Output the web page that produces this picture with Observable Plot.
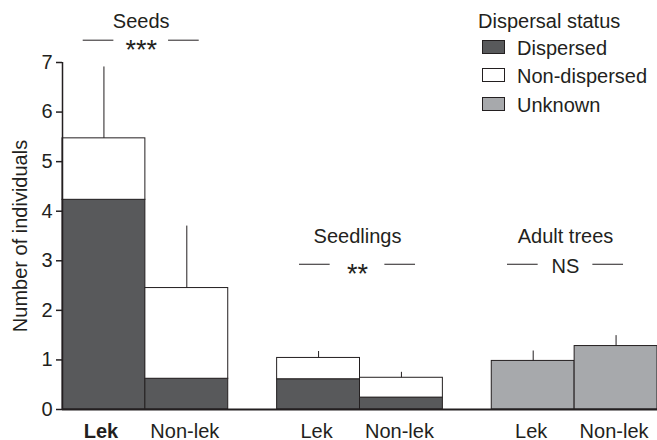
<!DOCTYPE html>
<html>
<head>
<meta charset="utf-8">
<script src="https://cdn.jsdelivr.net/npm/d3@7"></script>
<script src="https://cdn.jsdelivr.net/npm/@observablehq/plot@0.6"></script>
<style>
  body { margin: 0; background: #fff; }
  #wrap { position: relative; width: 657px; height: 440px; font-family: "Liberation Sans", Arial, sans-serif; }
  #legend { position: absolute; left: 0; top: 0; pointer-events: none; }
</style>
</head>
<body>
<div id="wrap"></div>
<script>
// ---- Data ----
const groups = ["Seeds", "Seedlings", "Adult trees"];
const sites = ["Lek", "Non-lek"];
const significance = ["***", "**", "NS"];
const barGroup = ["Seeds", "Seeds", "Seedlings", "Seedlings", "Adult trees", "Adult trees"];
const barSite = ["Lek", "Non-lek", "Lek", "Non-lek", "Lek", "Non-lek"];
const dispersed = [4.23, 0.62, 0.61, 0.24, 0, 0];
const nonDispersed = [1.24, 1.83, 0.43, 0.40, 0, 0];
const unknown = [0, 0, 0, 0, 0.98, 1.28];
const errorUpper = [6.91, 3.70, 1.17, 0.75, 1.18, 1.49];
const statuses = ["Dispersed", "Non-dispersed", "Unknown"];
const yTicks = [0, 1, 2, 3, 4, 5, 6, 7];

// ---- Layout / style ----
const GAP = 0.59;               // gap between groups, in bar widths
const INK = "#231f20";
const colors = ["#58595b", "#ffffff", "#a7a9ac"];
const FS = 20;

const gi = g => groups.indexOf(g);
const si = s => sites.indexOf(s);
const xLeft = (g, s) => gi(g) * (2 + GAP) + si(s);

// build stacked segments
const segments = [];
barGroup.forEach((g, i) => {
  const vals = [dispersed[i], nonDispersed[i], unknown[i]];
  let base = 0;
  vals.forEach((v, k) => {
    if (v > 0) {
      segments.push({group: g, site: barSite[i], status: statuses[k], y1: base, y2: base + v,
        x1: xLeft(g, barSite[i]), x2: xLeft(g, barSite[i]) + 1});
      base += v;
    }
  });
});
const bars = barGroup.map((g, i) => ({
  group: g, site: barSite[i],
  total: dispersed[i] + nonDispersed[i] + unknown[i],
  upper: errorUpper[i],
  xc: xLeft(g, barSite[i]) + 0.5,
  bold: i === 0
}));
const xMax = groups.length * 2 + (groups.length - 1) * GAP;

// annotation layout (y in data units)
const titleY = [7.70, 3.35, 3.35];
const sigY = [7.45, 2.93, 2.93];
const annShift = [-0.05, -0.03, -0.11];
const ann = groups.map((g, i) => ({
  group: g, sig: significance[i],
  xc: gi(g) * (2 + GAP) + 1 + annShift[i],
  ty: titleY[i], sy: sigY[i],
  star: significance[i].includes("*")
}));
const sigLines = ann.flatMap(a => [
  {x1: a.xc - 0.70, x2: a.xc - 0.33, y: a.sy},
  {x1: a.xc + 0.33, x2: a.xc + 0.70, y: a.sy}
]);

const chart = Plot.plot({
  width: 657,
  height: 440,
  marginLeft: 62,
  marginRight: 0,
  marginTop: 62,
  marginBottom: 31,
  style: {fontFamily: '"Liberation Sans", Arial, sans-serif', fontSize: FS + "px", color: INK, background: "transparent"},
  x: {domain: [0, xMax], axis: null},
  y: {domain: [0, 7]},
  color: {domain: statuses, range: colors},
  marks: [
    Plot.rect(segments, {x1: "x1", x2: "x2", y1: "y1", y2: "y2", fill: "status", stroke: INK, strokeWidth: 1}),
    Plot.ruleX(bars, {x: "xc", y1: "total", y2: "upper", stroke: INK, strokeWidth: 1}),
    Plot.ruleY([0], {x1: 0, x2: xMax, stroke: INK, strokeWidth: 2}),
    Plot.ruleX([0], {y1: 0, y2: 7, stroke: INK, strokeWidth: 1.5}),
    Plot.axisY({ticks: yTicks, tickSize: 6, tickPadding: 4, tickFormat: d3.format("d"),
      fontSize: FS, stroke: INK, strokeWidth: 1.5,
      label: "Number of individuals", labelAnchor: "center", labelArrow: "none", labelOffset: 50}),
    Plot.text(bars.filter(d => !d.bold), {x: "xc", y: 0, text: "site", lineAnchor: "bottom", dy: 28, dx: -2,
      fontSize: FS, fill: INK}),
    Plot.text(bars.filter(d => d.bold), {x: "xc", y: 0, text: "site", lineAnchor: "bottom", dy: 28, dx: -3,
      fontSize: FS, fill: INK, fontWeight: "bold"}),
    Plot.text(ann, {x: "xc", y: "ty", text: "group", lineAnchor: "bottom", fontSize: FS, fill: INK}),
    Plot.text(ann.filter(d => d.star), {x: "xc", y: "sy", text: "sig", lineAnchor: "bottom", fontSize: 27, fill: INK, dy: 19}),
    Plot.text(ann.filter(d => !d.star), {x: "xc", y: "sy", text: "sig", lineAnchor: "bottom", fontSize: FS, fill: INK, dy: 9}),
    Plot.ruleY(sigLines, {x1: "x1", x2: "x2", y: "y", stroke: INK, strokeWidth: 1})
  ]
});

const wrap = document.getElementById("wrap");
wrap.appendChild(chart);

// legend overlay
const leg = d3.select(wrap).append("svg").attr("id", "legend")
  .attr("width", 657).attr("height", 130)
  .style("font-family", '"Liberation Sans", Arial, sans-serif').style("font-size", FS + "px");
leg.append("text").attr("x", 478).attr("y", 27.5).attr("fill", INK).text("Dispersal status");
const baselines = [55, 83, 112];
statuses.forEach((s, i) => {
  leg.append("rect").attr("x", 482.5).attr("y", baselines[i] - 14.5).attr("width", 22).attr("height", 13)
    .attr("fill", colors[i]).attr("stroke", INK).attr("stroke-width", 1);
  leg.append("text").attr("x", 517).attr("y", baselines[i]).attr("fill", INK).text(s);
});
</script>
</body>
</html>
